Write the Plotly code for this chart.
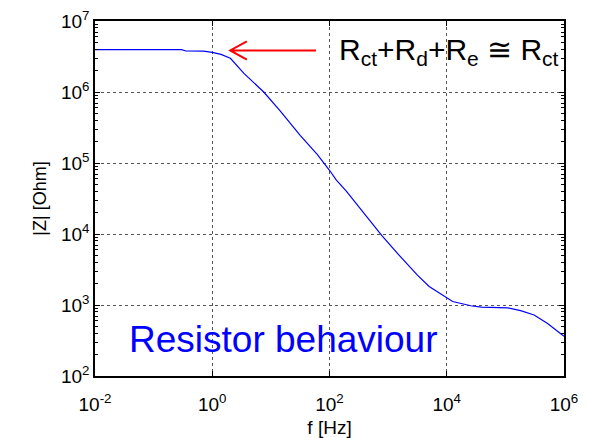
import plotly.graph_objects as go

# Data (frequency in Hz, |Z| in Ohm)
freq_hz = [0.01, 0.30, 0.355, 0.71, 1.0, 1.41, 2.04, 3.47, 7.55, 14.5, 31.6, 61.7,
           100, 130, 195, 331, 776, 1620, 3160, 5010, 1.0e4, 1.26e4, 2.57e4,
           3.89e4, 1.1e5, 1.82e5, 3.09e5, 5.25e5, 1.0e6]
z_ohm = [3.95e6, 3.95e6, 3.78e6, 3.76e6, 3.61e6, 3.39e6, 2.99e6, 1.83e6, 1.0e6,
         5.37e5, 2.45e5, 1.32e5, 7.9e4, 5.8e4, 3.98e4, 2.29e4, 9.55e3, 4.79e3,
         2.63e3, 1.82e3, 1.26e3, 1.12e3, 977, 933, 912, 832, 724, 550, 363]

x_tickvals = [1e-2, 1e0, 1e2, 1e4, 1e6]
x_ticktext = ["10<sup>-2</sup>", "10<sup>0</sup>", "10<sup>2</sup>", "10<sup>4</sup>", "10<sup>6</sup>"]
y_tickvals = [1e2, 1e3, 1e4, 1e5, 1e6, 1e7]
y_ticktext = ["10<sup>2</sup>", "10<sup>3</sup>", "10<sup>4</sup>", "10<sup>5</sup>",
              "10<sup>6</sup>", "10<sup>7</sup>"]
y_minor = [k * 10 ** n for n in range(2, 7) for k in range(2, 10)]

FONT = "Liberation Sans, Arial, sans-serif"

fig = go.Figure()
fig.add_trace(go.Scatter(x=freq_hz, y=z_ohm, mode="lines",
                         line=dict(color="#0000ff", width=1.2), showlegend=False))

axis_common = dict(
    showline=True, linecolor="black", linewidth=1.5, mirror="allticks",
    ticks="inside", ticklen=5, tickcolor="black", tickwidth=1.2,
    showgrid=True, gridcolor="#555555", griddash="dot", gridwidth=1,
    zeroline=False, automargin=False,
    tickfont=dict(family=FONT, size=19, color="black"),
)

fig.update_xaxes(type="log", range=[-2, 6], tickvals=x_tickvals, ticktext=x_ticktext,
                 ticklabelstandoff=10,
                 title=dict(text="f [Hz]", font=dict(family=FONT, size=19, color="black"),
                            standoff=8),
                 **axis_common)
fig.update_yaxes(type="log", range=[2, 7], tickvals=y_tickvals, ticktext=y_ticktext,
                 minor=dict(tickvals=y_minor, ticks="inside", ticklen=3,
                            tickcolor="black", showgrid=False),
                 title=dict(text="|Z| [Ohm]", font=dict(family=FONT, size=18, color="black"),
                            standoff=10),
                 **axis_common)

# white box behind the "Resistor behaviour" label (hides grid lines)
fig.add_shape(type="rect", xref="paper", yref="paper", x0=0, x1=0.738, y0=0, y1=0.204,
              fillcolor="white", line=dict(width=0), layer="between")

# red arrow (open head)
fig.add_shape(type="path", xref="paper", yref="paper",
              path="M 0.4713 0.9172 L 0.2883 0.9172 M 0.3238 0.9425 L 0.2883 0.9172 L 0.3238 0.891",
              line=dict(color="red", width=2))

fig.add_annotation(xref="paper", yref="paper", x=0.515, y=0.915, xanchor="left",
                   yanchor="middle", showarrow=False,
                   text="R<sub>ct</sub>+R<sub>d</sub>+R<sub>e</sub> \u2245 R<sub>ct</sub>",
                   font=dict(family=FONT, size=30, color="black"))
fig.add_annotation(xref="paper", yref="paper", x=0.068, y=0.104, xanchor="left",
                   yanchor="middle", showarrow=False, text="Resistor behaviour",
                   font=dict(family=FONT, size=37, color="#0000ff"))

fig.update_layout(width=589, height=438, margin=dict(l=95, r=25, t=21, b=62),
                  paper_bgcolor="white", plot_bgcolor="white",
                  font=dict(family=FONT, color="black"))

fig.write_html("out.html", config={"displayModeBar": False},
               post_script="document.body.style.margin='0';document.body.style.overflow='hidden';")
